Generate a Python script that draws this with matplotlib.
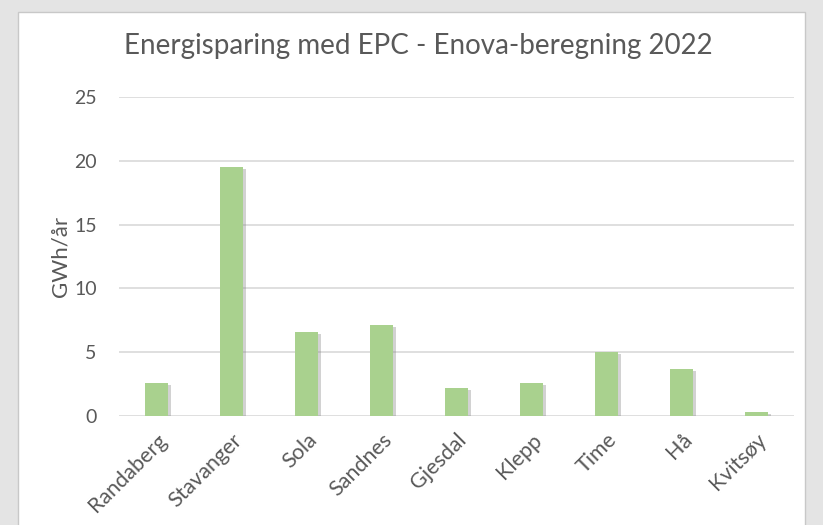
import matplotlib
matplotlib.use("Agg")
import matplotlib.pyplot as plt
import matplotlib.patheffects as pe
from matplotlib.patches import Rectangle
import numpy as np

categories = ["Randaberg", "Stavanger", "Sola", "Sandnes", "Gjesdal", "Klepp", "Time", "Hå", "Kvitsøy"]
values = [2.6, 19.5, 6.6, 7.1, 2.2, 2.6, 5.0, 3.7, 0.3]
yticks = [0, 5, 10, 15, 20, 25]

plt.rcParams['font.family'] = ['Lato', 'DejaVu Sans']

fig = plt.figure(figsize=(8.23, 5.25), dpi=100)
fig.patch.set_facecolor('#e4e4e4')

# background axes holding the white chart panel
bg = fig.add_axes([0, 0, 1, 1], zorder=-1)
bg.set_xlim(0, 823)
bg.set_ylim(525, 0)
bg.axis('off')
bg.add_patch(Rectangle((18, 12), 805 - 18, 525, facecolor='white', edgecolor='#c8c8c8', linewidth=1.0))

ax = fig.add_axes([119/823, 109/525, (794-119)/823, (428-109)/525], zorder=1)
ax.set_facecolor('none')
x = np.arange(len(categories))
bars = ax.bar(x, values, width=0.3, color='#A9D18E', zorder=3)
for b in bars:
    b.set_path_effects([pe.SimplePatchShadow(offset=(2.5, -1.5), shadow_rgbFace='#808080', alpha=0.35),
                        pe.Normal()])

ax.set_xlim(-0.5, len(categories) - 0.5)
ax.set_ylim(0, 25)
ax.set_yticks(yticks)
ax.yaxis.grid(True, color='#d9d9d9', linewidth=1.2, zorder=0)
ax.set_axisbelow(True)
for s in ax.spines.values():
    s.set_visible(False)
ax.tick_params(axis='both', length=0, colors='#595959')
ax.tick_params(axis='y', pad=16, labelsize=14)
ax.set_xticks(x)
ax.set_xticklabels(categories, rotation=45, ha='right', rotation_mode='anchor', fontsize=15.5, color='#595959')
ax.tick_params(axis='x', pad=10)
ax.set_ylabel("GWh/år", fontsize=16, color='#595959', va='center')
ax.yaxis.set_label_coords((61 - 119) / 675, 0.5)

fig.text(418/823, 1 - 46/525, "Energisparing med EPC - Enova-beregning 2022",
         ha='center', va='center', fontsize=20, color='#595959')

fig.savefig("out.png", dpi=100, facecolor=fig.get_facecolor())
